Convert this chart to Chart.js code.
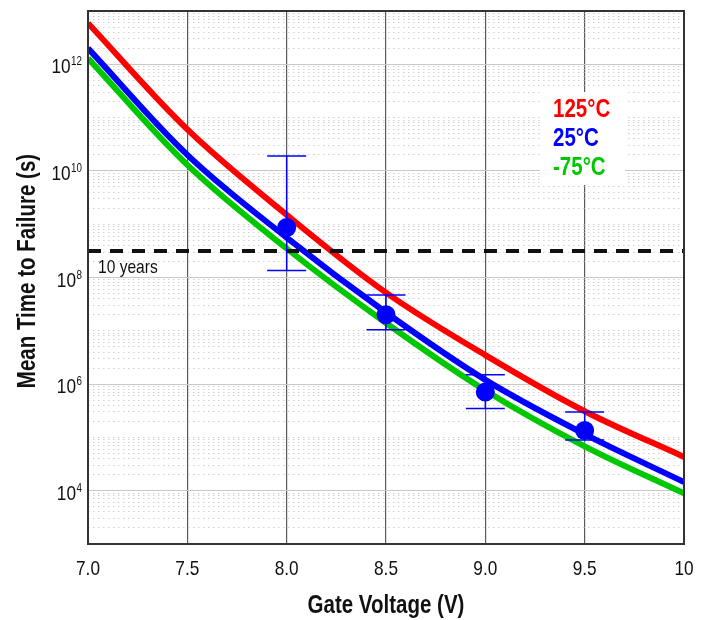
<!DOCTYPE html>
<html>
<head>
<meta charset="utf-8">
<script src="https://cdn.jsdelivr.net/npm/chart.js@4/dist/chart.umd.min.js"></script>
<style>
  html, body { margin: 0; padding: 0; background: #fff; }
  #caja { width: 704px; height: 620px; }
</style>
</head>
<body>
<div id="caja"><canvas id="grafica" width="704" height="620"></canvas></div>
<script>
// 📊 DATOS
const voltaje = [7.0, 7.5, 8.0, 8.5, 9.0, 9.5, 10.0];
const mttf125 = [5.9e12, 6.0e10, 1.5e9, 5.2e7, 3.5e6, 3.1e5, 4.3e4];
const mttf25 = [2.0e12, 2.0e10, 5.6e8, 2.2e7, 1.2e6, 1.15e5, 1.45e4];
const mttfMenos75 = [1.3e12, 1.3e10, 3.5e8, 1.4e7, 7.6e5, 6.8e4, 8.9e3];

const medVoltaje = [8.0, 8.5, 9.0, 9.5];
const medMttf = [8.7e8, 2.0e7, 7.1e5, 1.35e5];
const errAlto = [1.9e10, 4.7e7, 1.5e6, 3.0e5];
const errBajo = [1.36e8, 1.05e7, 3.5e5, 8.9e4];

const diezAnios = 3.156e8;

const etiquetasSerie = ['125°C', '25°C', '-75°C'];
const coloresSerie = ['#ff0000', '#0000ff', '#00c800'];
const xTicks = ['7.0', '7.5', '8.0', '8.5', '9.0', '9.5', '10'];
const yExponentes = [4, 6, 8, 10, 12];

const FUENTE = "'Liberation Sans', Arial, sans-serif";
const ANGOSTO = 0.82;   // simula fuente condensada


function puntos(xs, ys) {
  return xs.map((x, i) => ({ x: x, y: ys[i] }));
}

function esDecadaPar(v) {
  const e = Math.log10(v);
  const r = Math.round(e);
  return Math.abs(e - r) < 1e-6 && r % 2 === 0;
}

// texto angosto
function texto(ctx, str, x, y, align) {
  ctx.save();
  ctx.translate(x, y);
  ctx.scale(ANGOSTO, 1);
  ctx.textAlign = align || 'left';
  ctx.fillText(str, 0, 0);
  ctx.restore();
}

function ancho(ctx, str) {
  return ctx.measureText(str).width * ANGOSTO;
}


// 🟦 BARRAS DE ERROR
const barrasError = {
  id: 'barrasError',
  afterDatasetsDraw(chart) {
    const { ctx, scales: { x, y } } = chart;
    ctx.save();
    ctx.strokeStyle = '#0000ff';
    ctx.lineWidth = 1.5;
    medVoltaje.forEach((v, i) => {
      const px = x.getPixelForValue(v);
      const pAlto = y.getPixelForValue(errAlto[i]);
      const pBajo = y.getPixelForValue(errBajo[i]);
      ctx.beginPath();
      ctx.moveTo(px, pAlto); ctx.lineTo(px, pBajo);
      ctx.moveTo(px - 19.5, pAlto); ctx.lineTo(px + 19.5, pAlto);
      ctx.moveTo(px - 19.5, pBajo); ctx.lineTo(px + 19.5, pBajo);
      ctx.stroke();
    });
    ctx.restore();
  }
};


// 🏷️ LEYENDA, TITULOS, MARCO
const decoracion = {
  id: 'decoracion',
  beforeDatasetsDraw(chart) {
    const { ctx } = chart;
    ctx.save();
    ctx.fillStyle = '#fff';
    ctx.fillRect(540, 92, 85, 93);
    ctx.restore();
  },
  afterDraw(chart) {
    const { ctx, chartArea: a, scales: { x, y } } = chart;
    ctx.save();
    ctx.textBaseline = 'alphabetic';

    // leyenda
    ctx.font = 'bold 25px ' + FUENTE;
    etiquetasSerie.forEach((t, i) => {
      ctx.fillStyle = coloresSerie[i];
      texto(ctx, t, 553, 117 + i * 29);
    });

    // 10 years
    ctx.fillStyle = '#111';
    ctx.font = '19px ' + FUENTE;
    texto(ctx, '10 years', 98, 273);

    // etiquetas eje x
    ctx.font = '21px ' + FUENTE;
    x.ticks.forEach((t, i) => {
      texto(ctx, xTicks[i], x.getPixelForValue(t.value), 575, 'center');
    });

    // etiquetas eje y (10^n)
    yExponentes.forEach(e => {
      const py = y.getPixelForValue(Math.pow(10, e));
      ctx.font = '12px ' + FUENTE;
      const sup = String(e);
      const wSup = ancho(ctx, sup);
      texto(ctx, sup, 82 - wSup, py + 1);
      ctx.font = '21px ' + FUENTE;
      texto(ctx, '10', 82 - wSup - 0.5, py + 9, 'right');
    });

    // titulos
    ctx.font = 'bold 25px ' + FUENTE;
    texto(ctx, 'Gate Voltage (V)', (a.left + a.right) / 2, 613, 'center');

    ctx.save();
    ctx.translate(35, 271);
    ctx.rotate(-Math.PI / 2);
    texto(ctx, 'Mean Time to Failure (s)', 0, 0, 'center');
    ctx.restore();

    // marco
    ctx.strokeStyle = '#333';
    ctx.lineWidth = 2;
    ctx.strokeRect(a.left, a.top, a.right - a.left, a.bottom - a.top);
    ctx.restore();
  }
};


// 📈 GRAFICA
function crearGrafica() {

  const ctx = document.getElementById('grafica').getContext('2d');

  const lineaBase = {
    borderWidth: 6,
    pointRadius: 0,
    fill: false,
    tension: 0.35
  };

  new Chart(ctx, {
    type: 'line',
    data: {
      datasets: [
        Object.assign({ label: etiquetasSerie[2], data: puntos(voltaje, mttfMenos75), borderColor: coloresSerie[2], order: 5 }, lineaBase),
        Object.assign({ label: etiquetasSerie[1], data: puntos(voltaje, mttf25), borderColor: coloresSerie[1], order: 4 }, lineaBase),
        Object.assign({ label: etiquetasSerie[0], data: puntos(voltaje, mttf125), borderColor: coloresSerie[0], order: 3 }, lineaBase),
        {
          label: '10 years',
          data: [{ x: voltaje[0], y: diezAnios }, { x: voltaje[voltaje.length - 1], y: diezAnios }],
          borderColor: '#111',
          borderWidth: 4,
          borderDash: [13, 9],
          pointRadius: 0,
          order: 2
        },
        {
          label: 'medido',
          data: puntos(medVoltaje, medMttf),
          showLine: false,
          pointRadius: 9.5,
          pointBackgroundColor: '#0000ff',
          pointBorderWidth: 0,
          order: 1
        }
      ]
    },
    options: {
      responsive: false,
      animation: false,
      layout: { padding: { top: 11, right: 20, left: 0, bottom: 0 } },
      plugins: {
        legend: { display: false },
        tooltip: { enabled: false }
      },
      scales: {
        x: {
          type: 'linear',
          min: 7,
          max: 10,
          afterFit: s => { s.height = 76; },
          ticks: { stepSize: 0.5, display: false },
          grid: { color: '#5a5a5a', lineWidth: 1.2, drawTicks: false },
          border: { display: false }
        },
        y: {
          type: 'logarithmic',
          min: 1e3,
          max: 1e13,
          afterFit: s => { s.width = 88; },
          afterBuildTicks: s => {
            const lista = [];
            for (let e = 3; e < 13; e++) {
              for (let m = 1; m < 10; m++) lista.push({ value: m * Math.pow(10, e) });
            }
            lista.push({ value: 1e13 });
            s.ticks = lista;
          },
          ticks: { display: false },
          grid: {
            drawTicks: false,
            color: c => (c.tick && esDecadaPar(c.tick.value)) ? '#c8c8c8' : '#d0d0d0',
            lineWidth: 1
          },
          border: {
            display: false,
            dash: c => (c.tick && esDecadaPar(c.tick.value)) ? [] : [1.5, 3.5]
          }
        }
      }
    },
    plugins: [barrasError, decoracion]
  });
}

crearGrafica();
</script>
</body>
</html>
